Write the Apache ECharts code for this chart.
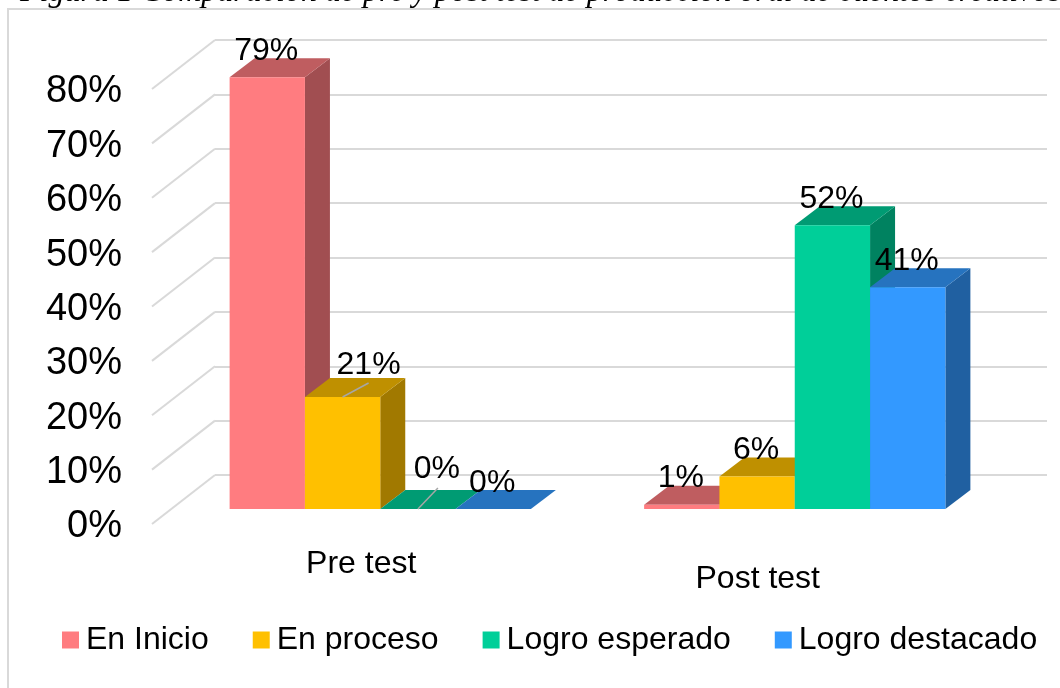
<!DOCTYPE html>
<html>
<head>
<meta charset="utf-8">
<style>html,body{margin:0;padding:0;background:#fff;overflow:hidden}#c{width:1060px;height:688px}</style>
<script src="https://cdn.jsdelivr.net/npm/echarts@6/dist/echarts.min.js"></script>
</head>
<body>
<div id="c"></div>
<script>
const captionText = 'Figura 1 Comparación de pre y post test de producción oral de cuentos creativos';
const categories = ['Pre test', 'Post test'];
const enInicio = [79.4, 0.8];
const enProceso = [20.6, 6];
const logroEsperado = [0, 52.2];
const logroDestacado = [0, 40.8];
const axisTicks = [0, 10, 20, 30, 40, 50, 60, 70, 80];
const seriesNames = ['En Inicio', 'En proceso', 'Logro esperado', 'Logro destacado'];
const seriesValues = [enInicio, enProceso, logroEsperado, logroDestacado];
const seriesColors = ['#FF7C80', '#FFC000', '#00CF99', '#3399FF'];

const FONT = '"Liberation Sans", Arial, sans-serif';
const BAR_FRACTION = 0.1817;       // bar width as part of a category band
const DEPTH = [25, -19];           // 3D extrusion of a bar
const WALL = [-63, 49];            // from back wall to front edge of the floor
const LABEL_OFFSET = [-1, -26];
// data labels moved away from their bar, with a leader line: [series, category]
const MOVED = {
  '1,0': { label: [26, -32], leader: [26, -14] },
  '2,0': { label: [19, -40], leader: [20, -21] }
};

function shade(hex, k) {
  const n = parseInt(hex.slice(1), 16);
  const c = s => Math.round(((n >> s) & 255) * k);
  return `rgb(${c(16)},${c(8)},${c(0)})`;
}

function barItem(si) {
  return function (params, api) {
    const cat = api.value(0), val = api.value(1);
    const base = api.coord([cat, 0]);
    const top = api.coord([cat, val]);
    const w = api.size([1, 0])[0] * BAR_FRACTION;
    const x0 = base[0] + (si - 2) * w, x1 = x0 + w;
    const yb = base[1], yt = top[1];
    const [dx, dy] = DEPTH;
    const col = seriesColors[si];
    const moved = MOVED[si + ',' + cat];
    const off = moved ? moved.label : LABEL_OFFSET;
    const cx = (x0 + x1) / 2;
    const children = [
      { type: 'polygon', shape: { points: [[x1, yb], [x1 + dx, yb + dy], [x1 + dx, yt + dy], [x1, yt]] },
        style: { fill: shade(col, 0.63) } },
      { type: 'polygon', shape: { points: [[x0, yt], [x0 + dx, yt + dy], [x1 + dx, yt + dy], [x1, yt]] },
        style: { fill: shade(col, 0.75) } },
      { type: 'rect', shape: { x: x0, y: yt, width: w, height: Math.max(yb - yt, 0) },
        style: { fill: col } }
    ];
    if (moved) {
      children.push({ type: 'line', z2: 90,
        shape: { x1: cx, y1: yt, x2: cx + moved.leader[0], y2: yt + moved.leader[1] },
        style: { stroke: '#A6A6A6', lineWidth: 1.5 } });
    }
    children.push({ type: 'text', z2: 100, x: cx + off[0], y: yt + off[1],
      style: { text: Math.round(val) + '%', fill: '#000', font: '32px ' + FONT, align: 'center', verticalAlign: 'middle' } });
    return { type: 'group', children };
  };
}

const option = {
  animation: false,
  backgroundColor: '#fff',
  title: {
    text: captionText, left: 15, top: -28,
    textStyle: { fontFamily: '"Liberation Serif", serif', fontStyle: 'italic', fontWeight: 'normal', fontSize: 32, color: '#000' }
  },
  graphic: [{ type: 'rect', silent: true, z: -10,
    shape: { x: 8, y: 9, width: 1100, height: 800 },
    style: { fill: 'none', stroke: '#D9D9D9', lineWidth: 2 } }],
  legend: {
    data: seriesNames, left: 62, top: 624, padding: 0, itemWidth: 17, itemHeight: 17, itemGap: 44,
    icon: 'rect',
    textStyle: { fontFamily: FONT, fontSize: 32, color: '#000', padding: [0, 0, 0, 2] }
  },
  grid: [
    { left: 215, width: 832, top: 40, height: 435 },   // back wall
    { left: 152, width: 832, top: 92, height: 435 },   // front edge, carries the labels
    { left: 173, width: 829, top: 74, height: 435 }    // plane of the bars
  ],
  xAxis: [
    { gridIndex: 0, type: 'value', min: 0, max: 1, show: false },
    { gridIndex: 1, type: 'value', min: 0, max: 1, show: false },
    { gridIndex: 2, type: 'category',
      data: [
        { value: categories[0], textStyle: { padding: [0, 38, 0, 0] } },
        { value: categories[1], textStyle: { padding: [15, 74, 0, 0] } }
      ],
      axisLine: { show: false }, axisTick: { show: false },
      axisLabel: { fontFamily: FONT, fontSize: 32, color: '#000', margin: 39, interval: 0 } }
  ],
  yAxis: [
    { gridIndex: 0, type: 'value', min: 0, max: 80, interval: 10,
      axisLine: { show: false }, axisTick: { show: false }, axisLabel: { show: false },
      splitLine: { show: true, lineStyle: { color: '#D9D9D9', width: 2 } } },
    { gridIndex: 1, type: 'value', min: 0, max: 80, interval: 10,
      axisLine: { show: false }, axisTick: { show: false }, splitLine: { show: false },
      axisLabel: { fontFamily: FONT, fontSize: 38, color: '#000', margin: 30, formatter: '{value}%' } },
    { gridIndex: 2, type: 'value', min: 0, max: 80, interval: 10, show: false }
  ],
  series: [
    { type: 'custom', name: 'wall', silent: true, xAxisIndex: 0, yAxisIndex: 0, z: 1,
      data: axisTicks.map(t => [0, t]),
      renderItem(params, api) {
        const p = api.coord([0, api.value(1)]);
        return { type: 'line', shape: { x1: p[0], y1: p[1], x2: p[0] + WALL[0], y2: p[1] + WALL[1] },
          style: { stroke: '#D9D9D9', lineWidth: 2 } };
      } }
  ].concat(seriesNames.map((name, si) => ({
    type: 'custom', name, xAxisIndex: 2, yAxisIndex: 2, z: 2, clip: false,
    itemStyle: { color: seriesColors[si] },
    encode: { x: 0, y: 1 },
    data: seriesValues[si].map((v, c) => [c, v]),
    renderItem: barItem(si)
  })))
};
echarts.init(document.getElementById('c'), null, { renderer: 'canvas' }).setOption(option);
</script>
</body>
</html>
